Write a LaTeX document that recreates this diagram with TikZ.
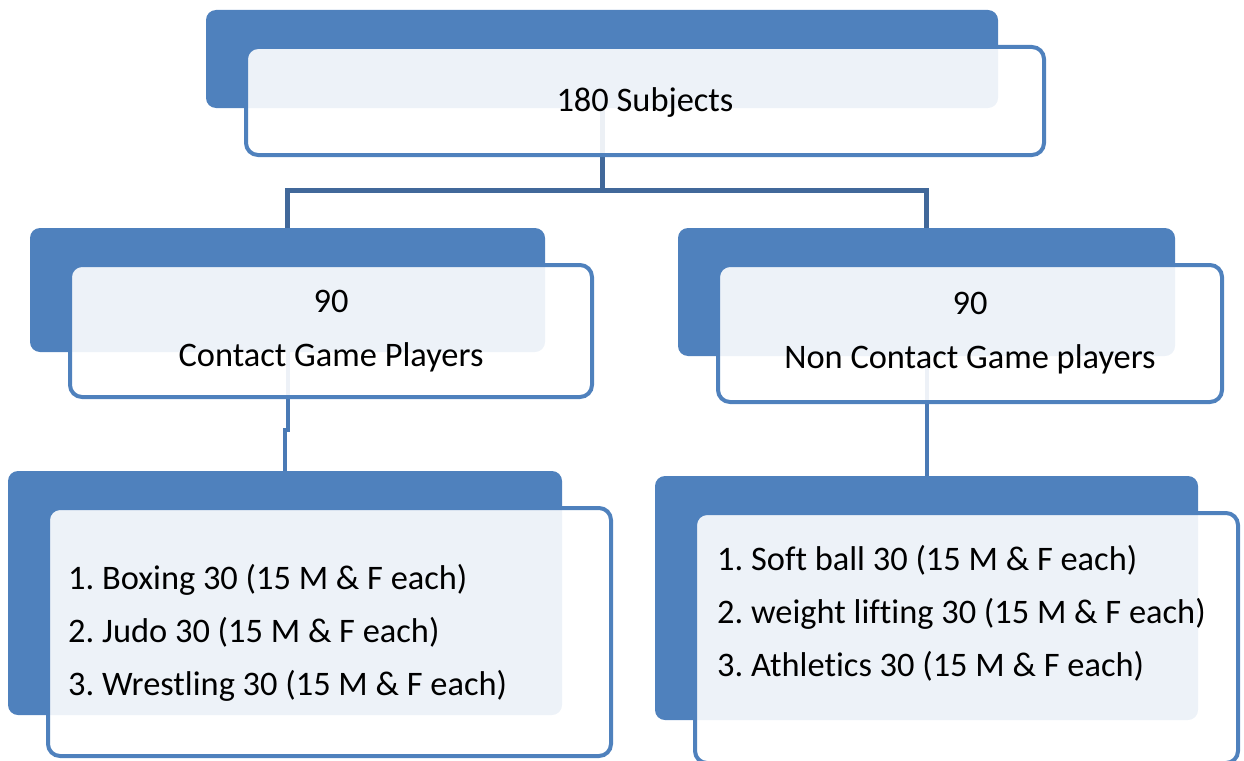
\documentclass[tikz,border=0pt]{standalone}
\usepackage{fontspec}
\setmainfont{Carlito}[Ligatures=NoCommon]
\usetikzlibrary{backgrounds}

\definecolor{cardblue}{HTML}{4F81BD}
\definecolor{trunkblue}{HTML}{41689A}
\definecolor{branchblue}{HTML}{4A7AB5}

\tikzset{
    backcard/.style={fill=cardblue, draw=none, rounded corners=10pt, inner sep=0pt, outer sep=0pt},
    frontcard/.style={fill=white, fill opacity=0.9, draw=cardblue, line width=4pt, rounded corners=12pt, inner sep=0pt, outer sep=0pt},
    cardtext/.style={font=\fontsize{34.4}{54}\selectfont, align=center, inner sep=0pt},
    listtext/.style={font=\fontsize{34.4}{53}\selectfont, align=left, inner sep=0pt, anchor=west},
    trunk/.style={draw=trunkblue, line width=5pt},
    branch/.style={draw=branchblue, line width=4pt},
    pics/card/.style args={#1/#2/#3/#4}{
        code={
            \node[backcard, minimum width=#1, minimum height=#2, anchor=north west] (-back) at (0,0) {};
            \node[frontcard, minimum width=#3, minimum height=#4, anchor=north west] (-front) at (40,37) {};
        }
    }
}

\begin{document}
\begin{tikzpicture}[x=1pt,y=-1pt]
    \useasboundingbox (0,0) rectangle (1244,760);

    \pic (top) at (206,10) {card=792/98/798/108};
    \pic (contact) at (30,228) {card=515/124/522/132};
    \pic (noncontact) at (678,228) {card=497/128/504/137};
    \pic (contactlist) at (8,471) {card=554/244/563/248};
    \pic (noncontactlist) at (655,476) {card=543/244/543/250};

    \node[cardtext] (toptext) at ([yshift=-2]top-front) {180 Subjects};
    \node[cardtext] (contacttext) at (contact-front) {90\\Contact Game Players};
    \node[cardtext] (noncontacttext) at (noncontact-front) {90\\Non Contact Game players};
    \node[listtext] (contactitems) at (68,633) {1.~Boxing 30 (15 M \& F each)\\2.~Judo 30 (15 M \& F each)\\3.~Wrestling 30 (15 M \& F each)};
    \node[listtext] (noncontactitems) at (717,613) {1.~Soft ball 30 (15 M \& F each)\\2.~weight lifting 30 (15 M \& F each)\\3.~Athletics 30 (15 M \& F each)};

    % connectors sit behind the cards
    \begin{scope}[on background layer]
        \draw[trunk] (top-back.center) -- (top-back.center |- 0,190) -| (contact-back.center);
        \draw[trunk] (top-back.center |- 0,190) -| (noncontact-back.center);
        \draw[branch] (contact-back.center) -- (contact-back.center |- 0,430) -| (contactlist-back.center);
        \draw[branch] (noncontact-back.center) -- (noncontactlist-back.center);
    \end{scope}
\end{tikzpicture}
\end{document}
